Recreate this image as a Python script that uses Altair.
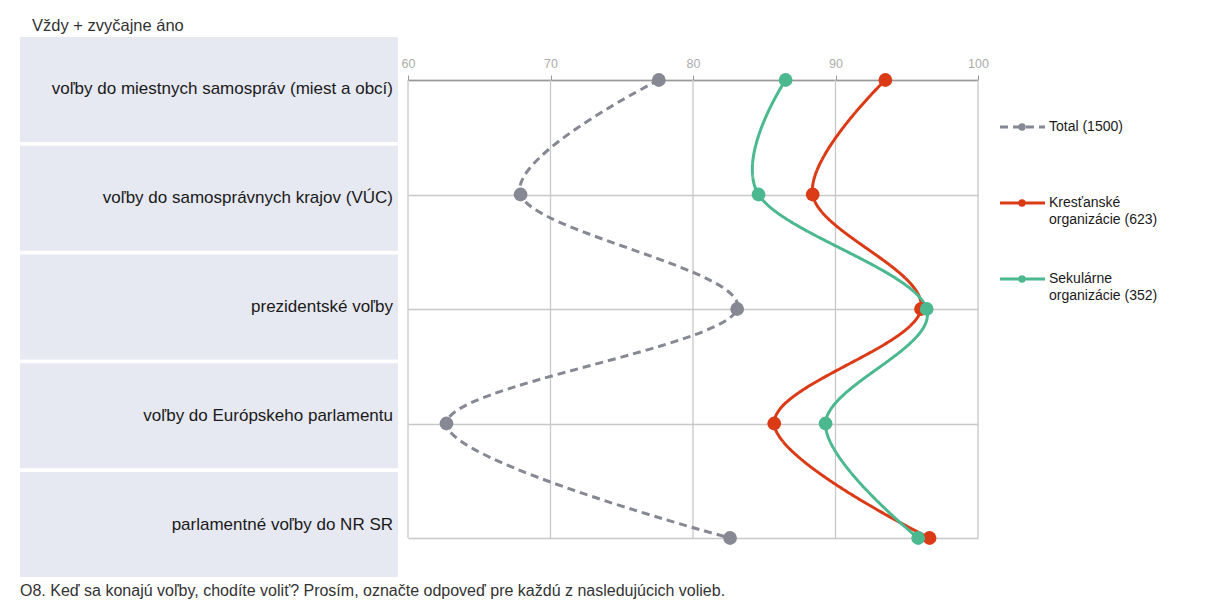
import altair as alt
import pandas as pd

categories = [
    "voľby do miestnych samospráv (miest a obcí)",
    "voľby do samosprávnych krajov (VÚC)",
    "prezidentské voľby",
    "voľby do Európskeho parlamentu",
    "parlamentné voľby do NR SR",
]
series = ["Total (1500)", "Kresťanské organizácie (623)", "Sekulárne organizácie (352)"]
legend_labels = ["Total (1500)", "Kresťanské\norganizácie (623)", "Sekulárne\norganizácie (352)"]
total = [77.6, 67.9, 83.1, 62.7, 82.6]
krestanske = [93.5, 88.4, 96.0, 85.7, 96.6]
sekularne = [86.5, 84.6, 96.4, 89.3, 95.8]
x_ticks = [60, 70, 80, 90, 100]
colors = ["#868893", "#DB3A16", "#4BB890"]
dashes = [[8, 5], [1, 0], [1, 0]]

title_text = "Vždy + zvyčajne áno"
footnote = "O8. Keď sa konajú voľby, chodíte voliť? Prosím, označte odpoveď pre každú z nasledujúcich volieb."

FONT = "Liberation Sans"

rows = []
for s, vals in zip(series, [total, krestanske, sekularne]):
    for i, (c, v) in enumerate(zip(categories, vals)):
        rows.append({"series": s, "cat": c, "idx": i, "val": v})
df = pd.DataFrame(rows)

grid_df = pd.DataFrame({"val": x_ticks, "cat": categories[0], "cat2": categories[-1]})
cat_df = pd.DataFrame({"cat": categories})
leg_df = pd.DataFrame({"series": series, "label": legend_labels})

color_scale = alt.Scale(domain=series, range=colors)
dash_scale = alt.Scale(domain=series, range=dashes)

# ---------- left label panel ----------
left_y = alt.Y("cat:N", sort=categories, axis=None,
               scale=alt.Scale(domain=categories, paddingInner=0.035, paddingOuter=0))
left_rect = alt.Chart(cat_df).mark_rect(color="#E6E8F2").encode(
    y=left_y, x=alt.value(0), x2=alt.value(378)
)
left_text = alt.Chart(cat_df).mark_text(
    align="right", baseline="middle", fontSize=17, font=FONT, color="#1a1a1a"
).encode(y=left_y, x=alt.value(373), text="cat:N")
left = alt.layer(left_rect, left_text).properties(
    width=378, height=540,
    title=alt.TitleParams(title_text, anchor="start", dx=12, offset=3, fontSize=16.5,
                          fontWeight="normal", font=FONT, color="#333333"),
)

# ---------- main plot ----------
y_enc = alt.Y("cat:N", sort=categories,
              scale=alt.Scale(type="point", domain=categories, range=[43, 501], padding=0),
              axis=alt.Axis(grid=True, labels=False, ticks=False, domain=False, title=None,
                            gridColor="#C8C8C8", gridWidth=1.3))
x_enc = alt.X("val:Q", scale=alt.Scale(domain=[60, 100], nice=False, zero=False),
              axis=alt.Axis(orient="top", values=x_ticks, grid=False, offset=-43, title=None,
                            labelColor="#ABABAB", labelFontSize=12.5, labelFont=FONT,
                            labelFlush=False,
                            tickColor="#999999", domainColor="#999999", tickSize=5,
                            labelPadding=5, domainWidth=1.3))

grid = alt.Chart(grid_df).mark_rule(color="#C8C8C8", strokeWidth=1.3).encode(
    x=x_enc, y=y_enc, y2="cat2:N"
)
lines = alt.Chart(df).mark_line(interpolate="cardinal", strokeWidth=3).encode(
    x=x_enc, y=y_enc,
    color=alt.Color("series:N", scale=color_scale, legend=None),
    strokeDash=alt.StrokeDash("series:N", scale=dash_scale, legend=None),
    order=alt.Order("idx:Q"),
    detail="series:N",
)
points = alt.Chart(df).mark_point(filled=True, size=190, opacity=1).encode(
    x=x_enc, y=y_enc,
    color=alt.Color("series:N", scale=color_scale, legend=None),
)
main = alt.layer(grid, lines, points).properties(width=570, height=540)

# ---------- legend panel ----------
leg_y = alt.Y("series:N", sort=series, axis=None,
              scale=alt.Scale(type="point", domain=series, range=[90, 242], padding=0))
leg_line = alt.Chart(leg_df).mark_rule(strokeWidth=3).encode(
    y=leg_y, x=alt.value(12), x2=alt.value(57),
    color=alt.Color("series:N", scale=color_scale, legend=None),
    strokeDash=alt.StrokeDash("series:N", scale=dash_scale, legend=None),
)
leg_pt = alt.Chart(leg_df).mark_point(filled=True, size=55, opacity=1).encode(
    y=leg_y, x=alt.value(34),
    color=alt.Color("series:N", scale=color_scale, legend=None),
)
leg_txt = alt.Chart(leg_df).mark_text(
    align="left", baseline="top", dy=-7, fontSize=14, font=FONT, color="#1a1a1a",
    lineBreak="\n", lineHeight=17
).encode(y=leg_y, x=alt.value(61), text="label:N")
legend = alt.layer(leg_line, leg_pt, leg_txt).properties(width=200, height=540)

chart = alt.hconcat(left, main, legend, spacing=10, bounds="flush").properties(
    padding={"left": 12, "top": 9, "right": 5, "bottom": 5},
    title=alt.TitleParams(footnote, orient="bottom", anchor="start", offset=6, fontSize=16,
                          fontWeight="normal", font=FONT, color="#333333"),
).configure_view(stroke=None)

chart.save("out.html", embed_options={"renderer": "svg", "actions": False})
